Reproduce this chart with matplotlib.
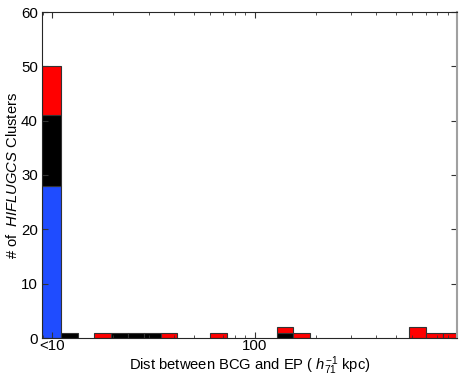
import numpy as np
import matplotlib
matplotlib.use("Agg")
import matplotlib.pyplot as plt
from matplotlib.ticker import FixedLocator, LogLocator, NullFormatter

plt.rcParams["font.family"] = ["Liberation Sans", "DejaVu Sans"]
plt.rcParams["mathtext.fontset"] = "custom"
plt.rcParams["mathtext.rm"] = "Liberation Sans"
plt.rcParams["mathtext.it"] = "Liberation Sans:italic"

# counts per bin: bin 0 is the "<10" bin, the rest are equal log-width bins
blue  = [28, 0, 0, 0, 0, 0, 0, 0, 0, 0, 0, 0, 0, 0, 0, 0, 0, 0, 0, 0, 0, 0, 0, 0, 0]
black = [13, 1, 0, 0, 1, 1, 1, 0, 0, 0, 0, 0, 0, 0, 1, 0, 0, 0, 0, 0, 0, 0, 0, 0, 0]
red   = [9,  0, 0, 1, 0, 0, 0, 1, 0, 0, 1, 0, 0, 0, 1, 1, 0, 0, 0, 0, 0, 0, 2, 1, 1]

# bin edges in log10(kpc)
log_edges = np.concatenate([[0.95], 1.045 + 0.0819 * np.arange(25)])
edges = 10 ** log_edges
lefts = edges[:-1]
widths = edges[1:] - edges[:-1]

blue = np.array(blue)
black = np.array(black)
red = np.array(red)

fig = plt.figure(figsize=(4.63, 3.8), dpi=100)
ax = fig.add_axes([42 / 463, 1 - 338 / 380, 415 / 463, 326 / 380])

ec = "#333333"
bottoms = np.zeros(len(blue))
for vals, col in [(blue, "#1f4cff"), (black, "black"), (red, "#ff0000")]:
    m = vals > 0
    ax.bar(lefts[m], vals[m], width=widths[m], bottom=bottoms[m], align="edge",
           color=col, edgecolor=ec, linewidth=0.8)
    bottoms = bottoms + vals

ax.set_xscale("log")
ax.set_xlim(10 ** 0.95, 1000)
ax.set_ylim(0, 60)
ax.xaxis.set_major_locator(FixedLocator([10, 100]))
ax.set_xticklabels(["<10", "100"])
ax.xaxis.set_minor_locator(LogLocator(base=10, subs=np.arange(2, 10)))
ax.xaxis.set_minor_formatter(NullFormatter())
ax.set_yticks(np.arange(0, 61, 10))

ax.tick_params(which="both", direction="in", top=True, right=True,
               labelsize=10.8, colors="#333333", labelcolor="black")
ax.tick_params(which="major", length=4, width=0.8)
ax.tick_params(axis="x", which="major", pad=1)
ax.tick_params(axis="y", which="major", pad=3)
ax.tick_params(which="minor", length=2.5, width=0.6)

for s in ["left", "bottom", "top"]:
    ax.spines[s].set_color("#262626")
    ax.spines[s].set_linewidth(0.8)
ax.spines["right"].set_color("#a0a0a0")
ax.spines["right"].set_linewidth(1.5)

ax.set_xlabel(r"Dist between BCG and EP ( $h_{71}^{-1}$ kpc)", fontsize=10.6, labelpad=0.5)
ax.set_ylabel(r"# of  $HIFLUGCS$ Clusters", fontsize=10.6, labelpad=1)

fig.savefig("out.png", dpi=100)
